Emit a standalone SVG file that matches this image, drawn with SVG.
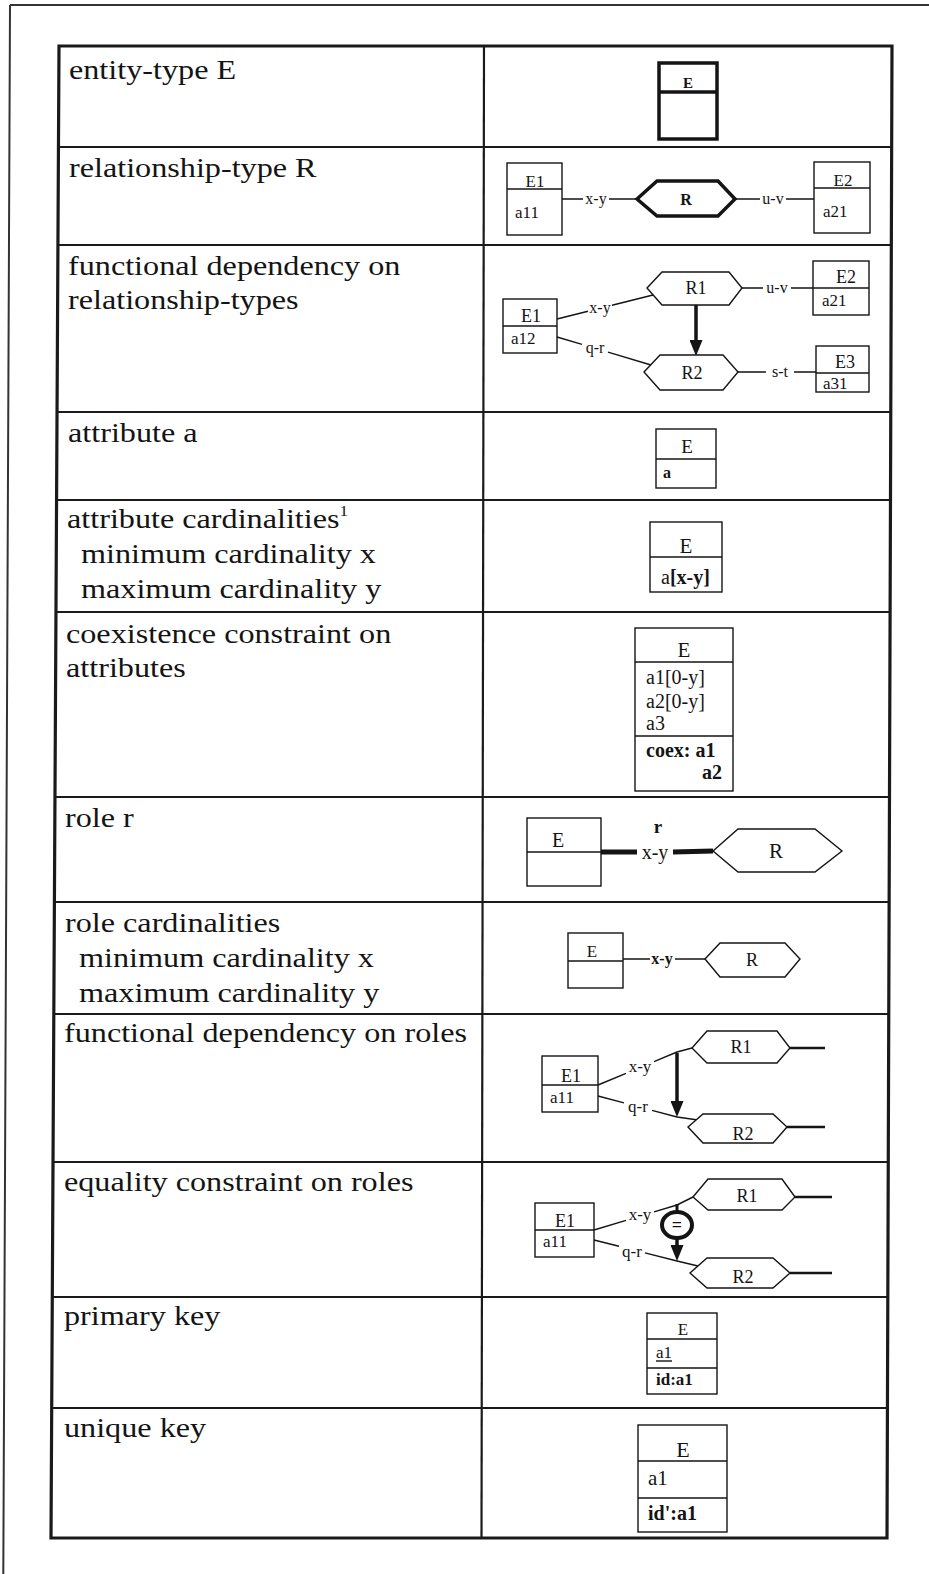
<svg xmlns="http://www.w3.org/2000/svg" width="929" height="1574" viewBox="0 0 929 1574">
<style>
.lbl{font-family:"Liberation Serif","Times New Roman",serif;font-size:28px;fill:#141414}
.t{font-family:"Liberation Serif","Times New Roman",serif;fill:#141414}
.b{font-weight:bold}
.m{text-anchor:middle}
.e{text-anchor:end}
.box{fill:#fff;stroke:#141414;stroke-width:1.4}
.thick{fill:#fff;stroke:#141414;stroke-width:3.5}
.ln{fill:none;stroke:#141414;stroke-width:1.4}
.grid{stroke:#1a1a1a;stroke-width:2.2;fill:none}
.frame{stroke:#1a1a1a;stroke-width:3.2;fill:none}
</style>
<defs>
<marker id="ah" markerUnits="userSpaceOnUse" markerWidth="16" markerHeight="13" refX="6" refY="6.5" orient="auto" viewBox="0 0 16 13">
<path d="M0,0 L16,6.5 L0,13 z" fill="#141414"/>
</marker>
</defs>
<rect x="0" y="0" width="929" height="1574" fill="#fff"/>
<g id="outer-frame">
<path d="M10,5 L929,5 M10,5 L3.3,1574" stroke="#333" stroke-width="2" fill="none"/>
</g>
<g id="table">
<path class="frame" d="M59,46 L892,46 L887,1538 L51,1538 Z"/>
<path class="grid" d="M484,46 L481.5,1538"/>
<path class="grid" d="M58.5,147 H891.7 M57.9,245 H891.3 M57,412 H890.8 M56.6,500 H890.5 M56,612 H890.1 M55,797 H889.5 M54.4,902 H889.1 M53.8,1014 H888.8 M53,1162 H888.3 M52.3,1297 H887.8 M51.7,1408 H887.4"/>
</g>
<g id="labels">
<text class="lbl" transform="translate(69 79) scale(1.15 1)">entity-type E</text>
<text class="lbl" transform="translate(69 177) scale(1.15 1)">relationship-type R</text>
<text class="lbl" transform="translate(68 275) scale(1.15 1)">functional dependency on</text>
<text class="lbl" transform="translate(68 309) scale(1.15 1)">relationship-types</text>
<text class="lbl" transform="translate(68 442) scale(1.15 1)">attribute a</text>
<text class="lbl" transform="translate(67 528) scale(1.15 1)">attribute cardinalities<tspan font-size="15" dy="-12">1</tspan></text>
<text class="lbl" transform="translate(81 563) scale(1.15 1)">minimum cardinality x</text>
<text class="lbl" transform="translate(81 598) scale(1.15 1)">maximum cardinality y</text>
<text class="lbl" transform="translate(66 643) scale(1.15 1)">coexistence constraint on</text>
<text class="lbl" transform="translate(66 677) scale(1.15 1)">attributes</text>
<text class="lbl" transform="translate(65 827) scale(1.15 1)">role r</text>
<text class="lbl" transform="translate(65 932) scale(1.15 1)">role cardinalities</text>
<text class="lbl" transform="translate(79 967) scale(1.15 1)">minimum cardinality x</text>
<text class="lbl" transform="translate(79 1002) scale(1.15 1)">maximum cardinality y</text>
<text class="lbl" transform="translate(64 1042) scale(1.15 1)">functional dependency on roles</text>
<text class="lbl" transform="translate(64 1191) scale(1.15 1)">equality constraint on roles</text>
<text class="lbl" transform="translate(64 1325) scale(1.15 1)">primary key</text>
<text class="lbl" transform="translate(64 1437) scale(1.15 1)">unique key</text>
</g>
<g id="connectors">
<path class="ln" d="M562,199 H583 M609,199 H637 M735,199 H760 M786,199 H814"/>
<path class="ln" d="M557,319 L588,311.3 M612,305.3 L653,295 M557,337 L582,344.4 M608,352.2 L651,365 M742,288 H763 M791,288 H813 M738,372 H766 M794,372 H816"/>
<path d="M696,305 V346" stroke="#141414" stroke-width="3.5" marker-end="url(#ah)"/>
<path d="M601,852 H637 M673,852 L713,851" stroke="#141414" stroke-width="5" fill="none"/>
<path class="ln" d="M623,959 H650 M675,959 H705"/>
<path class="ln" d="M598,1085 L626,1073.3 M654,1061.6 L677,1052 L692,1048 M598,1096 L624,1102.9 M652,1110.4 L677,1117 L698,1120"/>
<path d="M790,1048 H825 M787,1127 H825" stroke="#141414" stroke-width="2.4" fill="none"/>
<path d="M677,1053 V1107" stroke="#141414" stroke-width="3.5" marker-end="url(#ah)"/>
<path class="ln" d="M594,1230 L626,1220.4 M654,1211.9 L677,1205 L693,1197 M594,1240 L619,1246.3 M645,1252.9 L677,1261 L698,1266"/>
<path d="M795,1197 H832 M790,1273 H832" stroke="#141414" stroke-width="2.4" fill="none"/>
<path d="M677,1204 V1212" stroke="#141414" stroke-width="3" fill="none"/>
<path d="M677,1238 V1251" stroke="#141414" stroke-width="3.5" marker-end="url(#ah)"/>
</g>
<g id="entity-E-row1">
<rect class="thick" x="659" y="63" width="58" height="76"/>
<path class="thick" d="M659,92 H717"/>
<text class="t b m" x="688" y="88" font-size="15">E</text>
</g>
<g id="r2-E1">
<rect class="box" x="507" y="163" width="55" height="72"/>
<path class="ln" d="M507,189 H562"/>
<text class="t m" x="535" y="187" font-size="17">E1</text>
<text class="t" x="515" y="218" font-size="17">a11</text>
</g>
<g id="r2-R">
<polygon class="thick" points="637,199 657,181 718,181 735,199 718,216 657,216"/>
<text class="t b m" x="686" y="205" font-size="16">R</text>
</g>
<g id="r2-E2">
<rect class="box" x="814" y="162" width="56" height="71"/>
<path class="ln" d="M814,188 H870"/>
<text class="t m" x="843" y="186" font-size="17">E2</text>
<text class="t" x="823" y="217" font-size="17">a21</text>
</g>
<g id="r2-labels">
<text class="t m" x="596" y="204" font-size="16">x-y</text>
<text class="t m" x="773" y="204" font-size="16">u-v</text>
</g>
<g id="r3-E1">
<rect class="box" x="503" y="299" width="54" height="54"/>
<path class="ln" d="M503,326 H557"/>
<text class="t m" x="531" y="322" font-size="18">E1</text>
<text class="t" x="511" y="344" font-size="17">a12</text>
</g>
<g id="r3-R1">
<polygon class="box" points="647,288 662,272 729,272 742,288 729,305 662,305"/>
<text class="t m" x="696" y="294" font-size="18">R1</text>
</g>
<g id="r3-R2">
<polygon class="box" points="644,372 660,355 723,355 738,372 723,390 660,390"/>
<text class="t m" x="692" y="379" font-size="18">R2</text>
</g>
<g id="r3-E2">
<rect class="box" x="813" y="261" width="56" height="54"/>
<path class="ln" d="M813,288 H869"/>
<text class="t m" x="846" y="283" font-size="18">E2</text>
<text class="t" x="822" y="306" font-size="17">a21</text>
</g>
<g id="r3-E3">
<rect class="box" x="816" y="346" width="53" height="46"/>
<path class="ln" d="M816,373 H869"/>
<text class="t m" x="845" y="368" font-size="18">E3</text>
<text class="t" x="823" y="389" font-size="17">a31</text>
</g>
<g id="r3-labels">
<text class="t m" x="600" y="313" font-size="16">x-y</text>
<text class="t m" x="595" y="353" font-size="16">q-r</text>
<text class="t m" x="777" y="293" font-size="16">u-v</text>
<text class="t m" x="780" y="377" font-size="16">s-t</text>
</g>
<g id="r4-E">
<rect class="box" x="656" y="429" width="60" height="59"/>
<path class="ln" d="M656,459 H716"/>
<text class="t m" x="687" y="453" font-size="19">E</text>
<text class="t b" x="663" y="478" font-size="16">a</text>
</g>
<g id="r5-E">
<rect class="box" x="650" y="522" width="72" height="70"/>
<path class="ln" d="M650,557 H722"/>
<text class="t m" x="686" y="553" font-size="21">E</text>
<text class="t" x="661" y="584" font-size="20">a<tspan class="b">[x-y]</tspan></text>
</g>
<g id="r6-E">
<rect class="box" x="635" y="628" width="98" height="163"/>
<path class="ln" d="M635,662 H733 M635,736 H733"/>
<text class="t m" x="684" y="657" font-size="21">E</text>
<text class="t" x="646" y="684" font-size="20">a1[0-y]</text>
<text class="t" x="646" y="708" font-size="20">a2[0-y]</text>
<text class="t" x="646" y="730" font-size="20">a3</text>
<text class="t b" x="646" y="757" font-size="20">coex: a1</text>
<text class="t b e" x="722" y="779" font-size="20">a2</text>
</g>
<g id="r7-E">
<rect class="box" x="527" y="818" width="74" height="68"/>
<path class="ln" d="M527,852 H601"/>
<text class="t m" x="558" y="847" font-size="20">E</text>
</g>
<g id="r7-R">
<polygon class="box" points="713,851 738,829 815,829 842,851 815,872 738,872"/>
<text class="t m" x="776" y="858" font-size="21">R</text>
</g>
<g id="r7-labels">
<text class="t b m" x="658" y="833" font-size="19">r</text>
<text class="t m" x="655" y="859" font-size="20">x-y</text>
</g>
<g id="r8-E">
<rect class="box" x="568" y="933" width="55" height="55"/>
<path class="ln" d="M568,961 H623"/>
<text class="t m" x="592" y="957" font-size="17">E</text>
</g>
<g id="r8-R">
<polygon class="box" points="705,959 720,943 785,943 800,959 785,977 720,977"/>
<text class="t m" x="752" y="966" font-size="18">R</text>
</g>
<g id="r8-labels">
<text class="t b m" x="662" y="964" font-size="16">x-y</text>
</g>
<g id="r9-E1">
<rect class="box" x="542" y="1056" width="56" height="56"/>
<path class="ln" d="M542,1085 H598"/>
<text class="t m" x="571" y="1082" font-size="18">E1</text>
<text class="t" x="550" y="1103" font-size="17">a11</text>
</g>
<g id="r9-R1">
<polygon class="box" points="692,1048 707,1031 777,1031 790,1048 777,1063 707,1063"/>
<text class="t m" x="741" y="1053" font-size="18">R1</text>
</g>
<g id="r9-R2">
<polygon class="box" points="688,1127 703,1114 773,1114 787,1127 773,1143 703,1143"/>
<text class="t m" x="743" y="1140" font-size="18">R2</text>
</g>
<g id="r9-labels">
<text class="t m" x="640" y="1072" font-size="17">x-y</text>
<text class="t m" x="638" y="1112" font-size="17">q-r</text>
</g>
<g id="r10-E1">
<rect class="box" x="535" y="1203" width="59" height="54"/>
<path class="ln" d="M535,1230 H594"/>
<text class="t m" x="565" y="1227" font-size="18">E1</text>
<text class="t" x="543" y="1247" font-size="17">a11</text>
</g>
<g id="r10-R1">
<polygon class="box" points="693,1197 708,1179 782,1179 795,1197 782,1210 708,1210"/>
<text class="t m" x="747" y="1202" font-size="18">R1</text>
</g>
<g id="r10-R2">
<polygon class="box" points="690,1273 707,1258 773,1258 790,1273 773,1288 707,1288"/>
<text class="t m" x="743" y="1283" font-size="18">R2</text>
</g>
<g id="r10-equality">
<ellipse cx="677" cy="1225" rx="15" ry="13" fill="#fff" stroke="#141414" stroke-width="4"/>
<text class="t b m" x="677" y="1231" font-size="18">=</text>
</g>
<g id="r10-labels">
<text class="t m" x="640" y="1220" font-size="17">x-y</text>
<text class="t m" x="632" y="1257" font-size="17">q-r</text>
</g>
<g id="r11-E">
<rect class="box" x="647" y="1313" width="70" height="81"/>
<path class="ln" d="M647,1339 H717 M647,1368 H717"/>
<text class="t m" x="683" y="1335" font-size="17">E</text>
<text class="t" x="656" y="1358" font-size="17">a1</text>
<path class="ln" d="M656,1361 H672"/>
<text class="t b" x="656" y="1385" font-size="17">id:a1</text>
</g>
<g id="r12-E">
<rect class="box" x="638" y="1425" width="89" height="107"/>
<path class="ln" d="M638,1461 H727 M638,1498 H727"/>
<text class="t m" x="683" y="1457" font-size="22">E</text>
<text class="t" x="648" y="1485" font-size="21">a1</text>
<text class="t b" x="648" y="1520" font-size="20">id':a1</text>
</g>
</svg>
